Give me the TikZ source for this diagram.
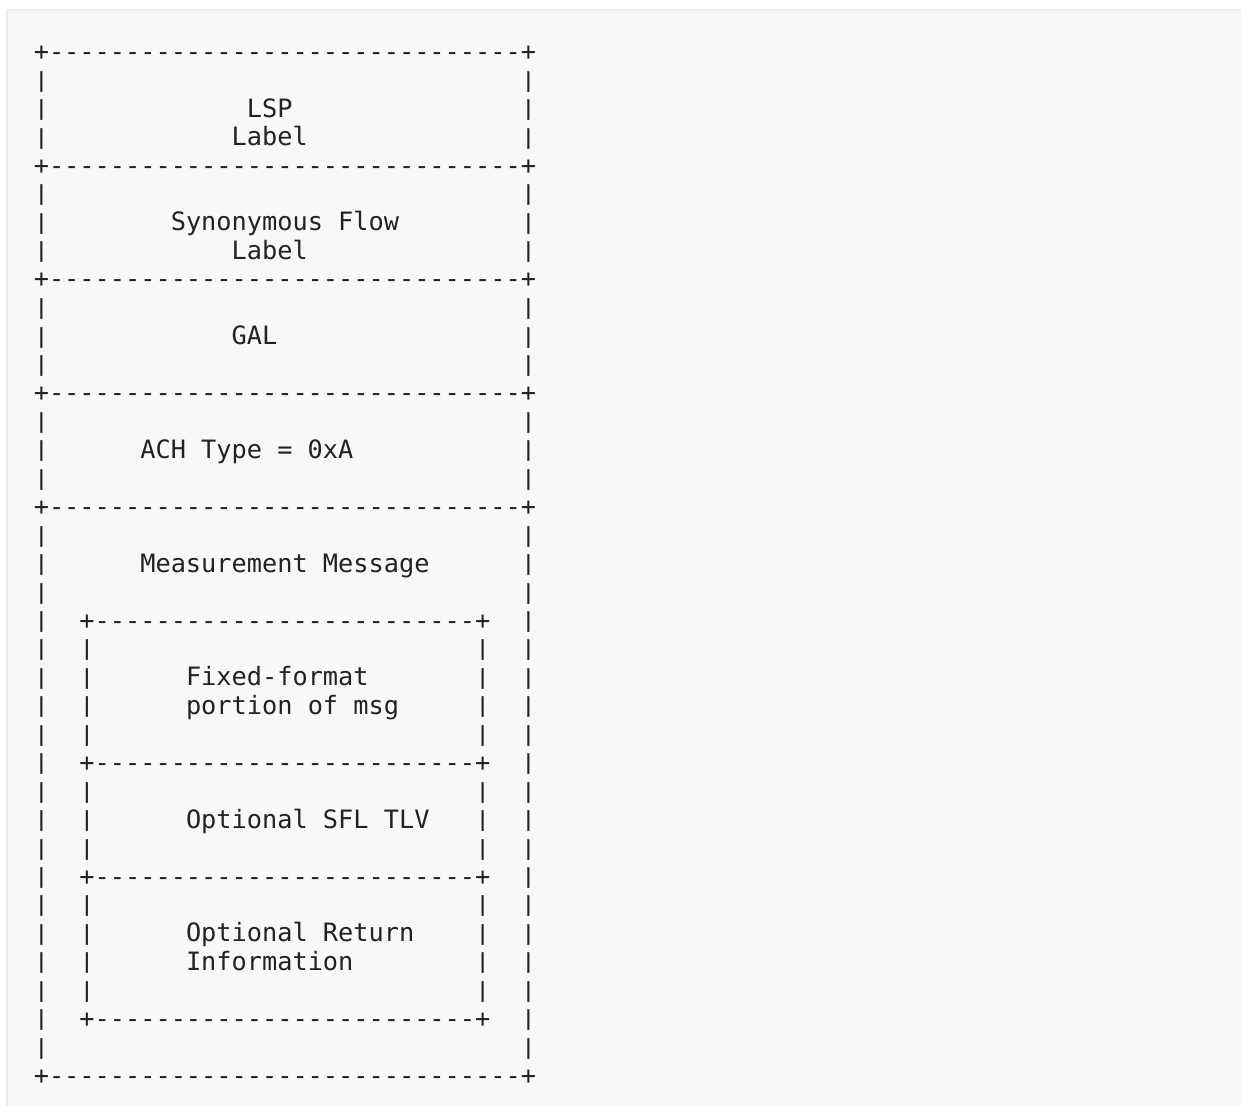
\documentclass[tikz,border=0pt]{standalone}
\usepackage{fontspec}
\newfontfamily\asciifont{DejaVu Sans Mono}
\usepackage{tikz}
\usetikzlibrary{positioning}

\definecolor{fondo}{HTML}{F8F8F8}
\definecolor{borde}{HTML}{EAEAEA}
\definecolor{tinta}{HTML}{222222}

% columna y fila de la rejilla ASCII (en px)
\newcommand\cx[1]{33.4+15.22*#1}
\newcommand\ry[1]{60.3+28.44*#1}
% barra vertical algo mas corta, como en el original
\newcommand\vbar{\raisebox{0.8pt}{\scalebox{1}[0.82]{|}}}

\begin{document}
\begin{tikzpicture}[
    x=0.5pt, y=-0.5pt,
    every node/.style={inner sep=0pt},
    ascii/.style={font=\asciifont\fontsize{12.64pt}{14pt}\selectfont,
                  text=tinta, anchor=base west}
]

% Fondo y marco
\useasboundingbox (0,0) rectangle (1241,1106);
\fill[white] (0,0) rectangle (1241,1106);
\filldraw[fill=fondo, draw=borde, line width=1pt] (7,10) rectangle (1250,1115);

% Bordes horizontales de la caja exterior
\foreach \r/\n in {0/top, 4/lspbot, 8/sflbot, 12/galbot, 16/achbot, 36/bot}
    \node[ascii] (\n) at ({\cx{0}},{\ry{\r}})
        {+-------------------------------+};

% Lados de la caja exterior
\foreach \r in {1,2,3,5,6,7,9,10,11,13,14,15,17,18,...,35} {
    \node[ascii] (ol\r) at ({\cx{0}},{\ry{\r}}) {\vbar};
    \node[ascii] (or\r) at ({\cx{32}},{\ry{\r}}) {\vbar};
}

% Bordes horizontales de la caja interior
\foreach \r/\n in {20/msgtop, 25/fixbot, 29/tlvbot, 34/msgbot}
    \node[ascii] (\n) at ({\cx{3}},{\ry{\r}})
        {+-------------------------+};

% Lados de la caja interior
\foreach \r in {21,22,23,24,26,27,28,30,31,32,33} {
    \node[ascii] (il\r) at ({\cx{3}},{\ry{\r}}) {\vbar};
    \node[ascii] (ir\r) at ({\cx{29}},{\ry{\r}}) {\vbar};
}

% Textos de la pila
\node[ascii] (lsp) at ({\cx{14}},{\ry{2}}) {LSP};
\node[ascii] (lsplabel) at ({\cx{13}},{\ry{3}}) {Label};

\node[ascii] (sfl) at ({\cx{9}},{\ry{6}}) {Synonymous Flow};
\node[ascii] (sfllabel) at ({\cx{13}},{\ry{7}}) {Label};

\node[ascii] (gal) at ({\cx{13}},{\ry{10}}) {GAL};

\node[ascii] (ach) at ({\cx{7}},{\ry{14}}) {ACH Type = 0xA};

\node[ascii] (msg) at ({\cx{7}},{\ry{18}}) {Measurement Message};

% Textos de la caja interior
\node[ascii] (fixed) at ({\cx{10}},{\ry{22}}) {Fixed-format};
\node[ascii] (portion) at ({\cx{10}},{\ry{23}}) {portion of msg};

\node[ascii] (tlv) at ({\cx{10}},{\ry{27}}) {Optional SFL TLV};

\node[ascii] (ret) at ({\cx{10}},{\ry{31}}) {Optional Return};
\node[ascii] (info) at ({\cx{10}},{\ry{32}}) {Information};

\end{tikzpicture}
\end{document}
